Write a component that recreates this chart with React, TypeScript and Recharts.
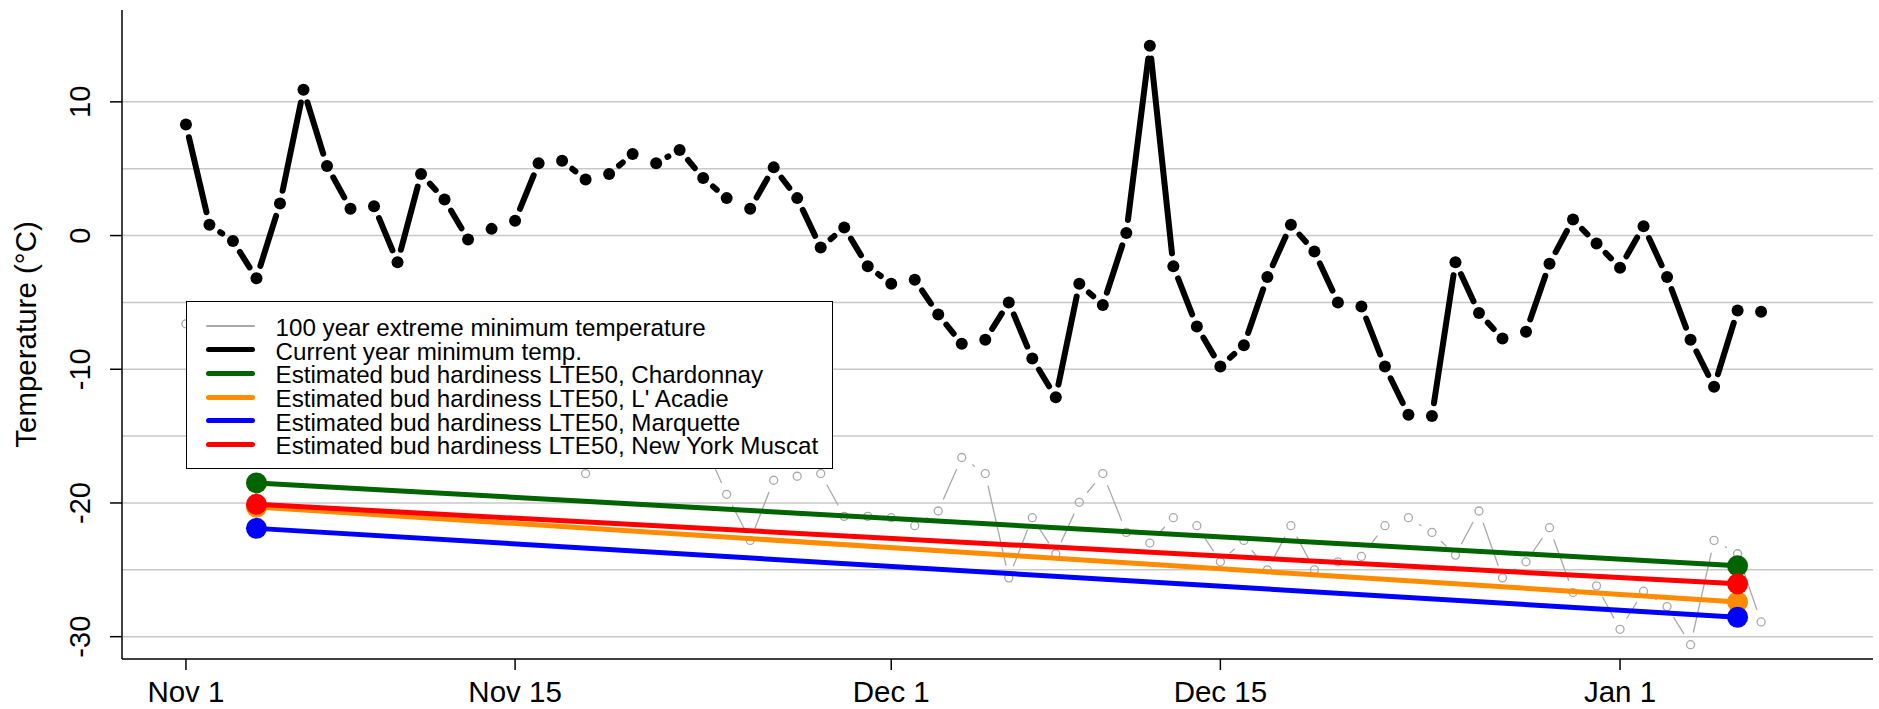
import { LineChart, Line, XAxis, YAxis, CartesianGrid, Legend } from 'recharts';

const FONT = '"Liberation Sans", Arial, Helvetica, sans-serif';

// day 0 = Nov 1
const currentYearMin = [
  8.3, 0.8, -0.4, -3.2, 2.4, 10.9, 5.2, 2.0, 2.2, -2.0,
  4.6, 2.7, -0.3, 0.5, 1.1, 5.4, 5.6, 4.2, 4.6, 6.1,
  5.4, 6.4, 4.3, 2.8, 2.0, 5.1, 2.8, -0.9, 0.6, -2.3,
  -3.6, -3.3, -5.9, -8.1, -7.8, -5.0, -9.2, -12.1, -3.6, -5.2,
  0.2, 14.2, -2.3, -6.8, -9.8, -8.2, -3.1, 0.8, -1.2, -5.0,
  -5.3, -9.8, -13.4, -13.5, -2.0, -5.8, -7.7, -7.2, -2.1, 1.2,
  -0.6, -2.4, 0.7, -3.1, -7.8, -11.3, -5.6, -5.7,
];

const extremeMin = [
  -6.6, -9.5, -11.0, -12.4, -10.8, -13.1, -14.0, -12.2, -15.3, -13.6,
  -14.8, -16.1, -15.0, -16.4, -13.9, -16.8, -15.5, -17.8, -15.9, -16.7,
  -14.6, -16.2, -15.4, -19.35, -22.8, -18.3, -18.0, -17.8, -21.0, -21.0,
  -21.1, -21.7, -20.6, -16.6, -17.8, -25.6, -21.1, -23.8, -19.95, -17.8,
  -22.2, -23.0, -21.1, -21.7, -24.4, -22.8, -25.0, -21.7, -25.0, -24.4,
  -24.0, -21.7, -21.1, -22.2, -23.9, -20.6, -25.6, -24.4, -21.85, -26.7,
  -26.2, -29.45, -26.6, -27.75, -30.6, -22.8, -23.8, -28.9,
];

const hardinessDays = [3, 66];
const chardonnay = [-18.5, -24.7];
const lAcadie = [-20.3, -27.4];
const marquette = [-21.9, -28.55];
const nyMuscat = [-20.1, -26.05];

const xTickDays = [0, 14, 30, 44, 61];
const xTickLabels = ['Nov 1', 'Nov 15', 'Dec 1', 'Dec 15', 'Jan 1'];
const yTicks = [-30, -20, -10, 0, 10];
const gridValues = [-30, -25, -20, -15, -10, -5, 0, 5, 10];

const legendItems = [
  { label: '100 year extreme minimum temperature', color: '#a9a9a9', size: 2 },
  { label: 'Current year minimum temp.', color: '#000000', size: 5 },
  { label: 'Estimated bud hardiness LTE50, Chardonnay', color: '#006400', size: 5 },
  { label: "Estimated bud hardiness LTE50, L' Acadie", color: '#ff8c00', size: 5 },
  { label: 'Estimated bud hardiness LTE50, Marquette', color: '#0000ff', size: 5 },
  { label: 'Estimated bud hardiness LTE50, New York Muscat', color: '#ff0000', size: 5 },
];

const data = currentYearMin.map((v, day) => {
  const h = hardinessDays.indexOf(day);
  return {
    day,
    current: v,
    extreme: extremeMin[day],
    chardonnay: h >= 0 ? chardonnay[h] : null,
    lAcadie: h >= 0 ? lAcadie[h] : null,
    marquette: h >= 0 ? marquette[h] : null,
    nyMuscat: h >= 0 ? nyMuscat[h] : null,
  };
});

type SegStyle = {
  gap: number;
  lineColor: string;
  lineWidth: number;
  r: number;
  fill: string;
  stroke: string;
  sw: number;
};

// R type="b"/"o" look: each point draws the segment to the next point
// (shortened by `gap` at both ends) and then its own marker
const segDot = (s: SegStyle) => (props: any) => {
  const { cx, cy, index, value, points } = props;
  if (cx == null || cy == null || value == null) return null;
  let seg = null;
  if (points) {
    let j = index + 1;
    while (j < points.length && (points[j].y == null || points[j].value == null)) j++;
    const next = points[j];
    if (next) {
      const dx = next.x - cx;
      const dy = next.y - cy;
      const len = Math.hypot(dx, dy);
      if (len > 2 * s.gap) {
        const ux = dx / len;
        const uy = dy / len;
        seg = (
          <line
            x1={cx + ux * s.gap}
            y1={cy + uy * s.gap}
            x2={next.x - ux * s.gap}
            y2={next.y - uy * s.gap}
            stroke={s.lineColor}
            strokeWidth={s.lineWidth}
            strokeLinecap="round"
          />
        );
      }
    }
  }
  return (
    <g key={`d-${props.dataKey}-${index}`}>
      {seg}
      <circle cx={cx} cy={cy} r={s.r} fill={s.fill} stroke={s.stroke} strokeWidth={s.sw} />
    </g>
  );
};

const greyDot = segDot({ gap: 13, lineColor: '#a9a9a9', lineWidth: 1.3, r: 4, fill: 'none', stroke: '#a9a9a9', sw: 1.3 });
const blackDot = segDot({ gap: 13, lineColor: '#000', lineWidth: 6, r: 6, fill: '#000', stroke: 'none', sw: 0 });
const hardyDot = (color: string) =>
  segDot({ gap: 0, lineColor: color, lineWidth: 5, r: 10.5, fill: color, stroke: 'none', sw: 0 });

const XTick = (props: any) => {
  const { x, y, payload } = props;
  const i = xTickDays.indexOf(payload.value);
  return (
    <text x={x} y={y + 20} textAnchor="middle" fontSize={29.5} fontFamily={FONT} fill="#000">
      {i >= 0 ? xTickLabels[i] : ''}
    </text>
  );
};

const YTick = (props: any) => {
  const { x, y, payload } = props;
  return (
    <text x={x} y={y} transform={`rotate(-90 ${x} ${y})`} textAnchor="middle" fontSize={29} fontFamily={FONT} fill="#000">
      {payload.value}
    </text>
  );
};

const YTitle = (props: any) => {
  const vb = props.viewBox || {};
  const x = (vb.x ?? 0) + 36;
  const y = (vb.y ?? 10) + (vb.height ?? 649) / 2;
  return (
    <text x={x} y={y} transform={`rotate(-90 ${x} ${y})`} textAnchor="middle" fontSize={29.5} fontFamily={FONT} fill="#000">
      Temperature (°C)
    </text>
  );
};

const LegendBox = () => (
  <div
    style={{
      boxSizing: 'border-box',
      width: 647,
      height: 168,
      border: '1.5px solid #000',
      background: '#fff',
      paddingTop: 12.4,
      fontFamily: FONT,
      color: '#000',
    }}
  >
    {legendItems.map((item) => (
      <div key={item.label} style={{ display: 'flex', alignItems: 'center', height: 23.7 }}>
        <div
          style={{
            marginLeft: 18.5,
            width: 49,
            height: item.size,
            background: item.color,
            borderRadius: item.size / 2,
            flexShrink: 0,
          }}
        />
        <span
          style={{
            marginLeft: 21,
            fontSize: 24.2,
            lineHeight: '23.7px',
            whiteSpace: 'nowrap',
            position: 'relative',
            top: 1.5,
          }}
        >
          {item.label}
        </span>
      </div>
    ))}
  </div>
);

const axisLine = { stroke: '#000', strokeWidth: 1.5 };

const App = () => {
  return (
    <div style={{ position: 'absolute', left: 0, top: 0, width: 1879, height: 709, background: '#fff' }}>
      <LineChart width={1879} height={709} data={data} margin={{ top: 10, right: 6, bottom: 0, left: 0 }}>
        <CartesianGrid vertical={false} horizontalValues={gridValues} stroke="#c8c8c8" strokeWidth={1.5} />
        <XAxis
          dataKey="day"
          type="number"
          domain={[-2.72, 71.76]}
          ticks={xTickDays}
          interval={0}
          allowDataOverflow
          height={50}
          tickSize={11}
          tickMargin={12}
          tickLine={axisLine}
          axisLine={axisLine}
          tick={<XTick />}
        />
        <XAxis
          xAxisId="top"
          orientation="top"
          dataKey="day"
          type="number"
          domain={[-2.72, 71.76]}
          allowDataOverflow
          height={0}
          tick={false}
          tickLine={false}
          axisLine={axisLine}
        />
        <YAxis
          type="number"
          domain={[-31.67, 16.87]}
          ticks={yTicks}
          interval={0}
          allowDataOverflow
          width={122}
          tickSize={12}
          tickMargin={20}
          tickLine={axisLine}
          axisLine={axisLine}
          tick={<YTick />}
          label={<YTitle />}
        />
        <YAxis
          yAxisId="right"
          orientation="right"
          type="number"
          domain={[-31.67, 16.87]}
          allowDataOverflow
          width={0}
          tick={false}
          tickLine={false}
          axisLine={axisLine}
        />
        <Legend
          layout="horizontal"
          verticalAlign="middle"
          align="center"
          content={<LegendBox />}
          wrapperStyle={{ left: 186, top: 301, width: 647, height: 168 }}
        />
        <Line dataKey="extreme" stroke="none" dot={greyDot} activeDot={false} isAnimationActive={false} />
        <Line dataKey="chardonnay" stroke="none" connectNulls dot={hardyDot('#006400')} activeDot={false} isAnimationActive={false} />
        <Line dataKey="lAcadie" stroke="none" connectNulls dot={hardyDot('#ff8c00')} activeDot={false} isAnimationActive={false} />
        <Line dataKey="marquette" stroke="none" connectNulls dot={hardyDot('#0000ff')} activeDot={false} isAnimationActive={false} />
        <Line dataKey="nyMuscat" stroke="none" connectNulls dot={hardyDot('#ff0000')} activeDot={false} isAnimationActive={false} />
        <Line dataKey="current" stroke="none" dot={blackDot} activeDot={false} isAnimationActive={false} />
      </LineChart>
    </div>
  );
};

export default App;
